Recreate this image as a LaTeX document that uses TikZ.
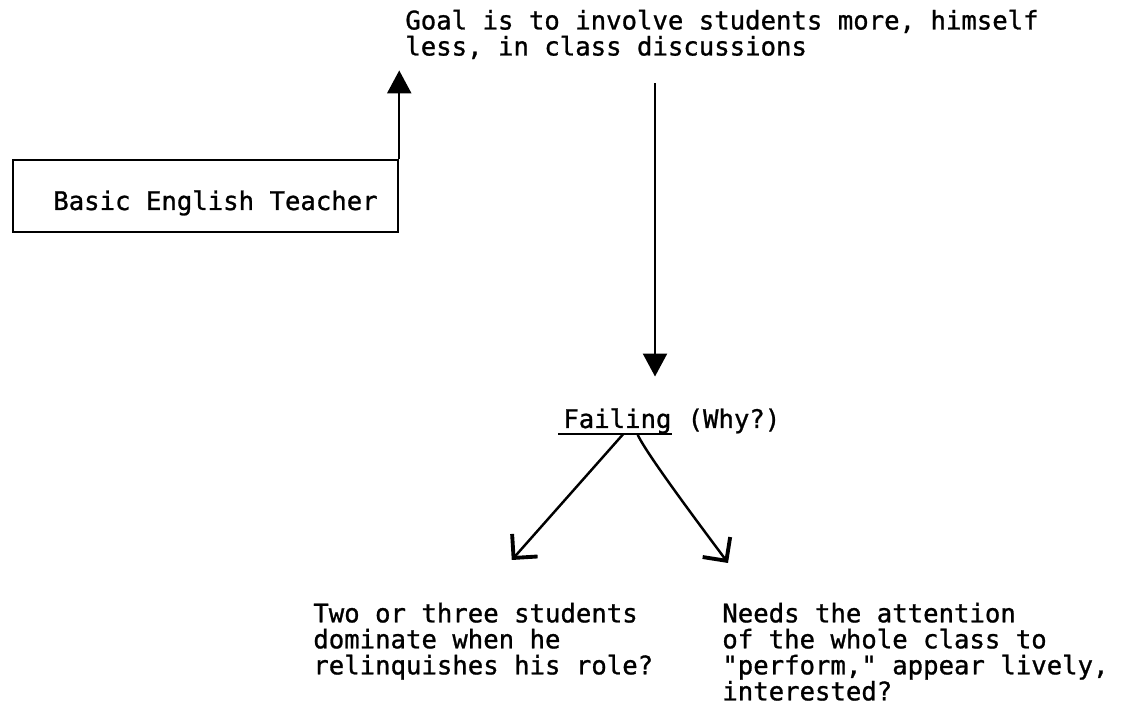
\documentclass[tikz,border=0pt]{standalone}
\usepackage{fontspec}
\newfontfamily\typewriter[FakeBold=1]{DejaVu Sans Mono}
\usetikzlibrary{arrows.meta, positioning, calc}

\begin{document}
\begin{tikzpicture}[
    >=Stealth,
    txt/.style={font=\typewriter\fontsize{14.6pt}{14.8pt}\selectfont, inner sep=0pt, align=left},
    solid arrow/.style={line width=1.4pt, -{Triangle[length=0.46cm, width=0.48cm]}},
    branch/.style={line width=1.4pt, -{Straight Barb[length=0.34cm, width=0.68cm, line width=2.2pt]}},
]

\useasboundingbox (0,0) rectangle (22.58,14.52);

% --- Goal and teacher box ---
\node[txt, anchor=north west] (goal) at (8.10, 14.33)
    {Goal is to involve students more, himself\\less, in class discussions};

\node[txt, draw, line width=1.4pt, minimum width=7.7cm, minimum height=1.44cm,
    text height=0.56cm, text depth=0pt] (teacher) at (4.11, 10.60)
    {\hspace*{0.4cm}Basic English Teacher};

\draw[solid arrow] (teacher.north east)
    -- ($(teacher.north east |- goal.south)+(0,-0.22)$);

% --- Failing (Why?) ---
\node[txt, anchor=base west] (fail) at (11.26, 5.96) {Failing};
\node[txt, base right=0.309cm of fail] (why) {(Why?)};
\draw[line width=1.2pt] ([xshift=-0.1cm]fail.south west) -- (fail.south east);

\coordinate (drop) at (13.10, 0);
\draw[solid arrow, shorten <=0.48cm, shorten >=0.63cm]
    (goal.south -| drop) -- (fail.north -| drop);

% --- Two reasons ---
\node[txt, anchor=north west] (two) at (6.26, 2.47)
    {Two or three students\\dominate when he\\relinquishes his role?};
\node[txt, anchor=north west] (needs) at (14.44, 2.47)
    {Needs the attention\\of the whole class to\\"perform," appear lively,\\interested?};

\draw[branch] ([xshift=0.12cm]fail.south) -- ([xshift=0.57cm, yshift=0.85cm]two.north);
\draw[branch] ([xshift=0.4cm]fail.south) to[out=-70, in=126, looseness=0.3]
    ([xshift=0.12cm, yshift=0.79cm]needs.north west);

\end{tikzpicture}
\end{document}
